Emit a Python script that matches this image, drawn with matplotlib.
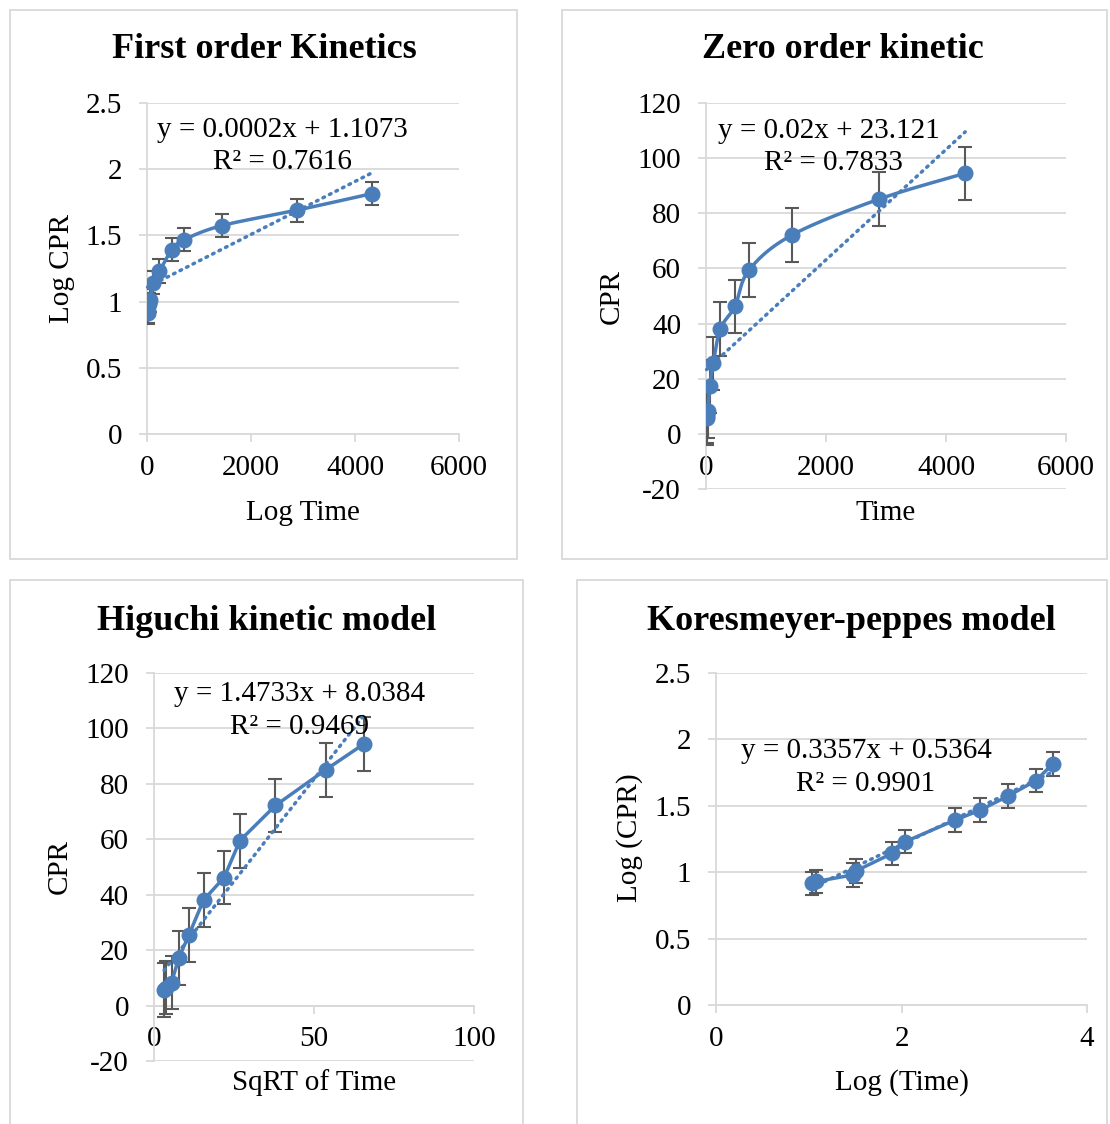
import matplotlib
matplotlib.use("Agg")
import matplotlib.pyplot as plt
import numpy as np
from matplotlib.patches import Rectangle
from matplotlib.ticker import FuncFormatter

plt.rcParams['font.family'] = ['Liberation Serif', 'DejaVu Serif']

# data
time = [10, 15, 30, 60, 120, 240, 480, 720, 1440, 2880, 4320]
sqrt_time = [3.16, 3.87, 5.48, 7.75, 10.95, 15.49, 21.91, 26.83, 37.95, 53.67, 65.73]
log_time = [1.03, 1.08, 1.48, 1.51, 1.90, 2.04, 2.58, 2.85, 3.15, 3.45, 3.63]
cpr = [5.7, 6.5, 8.3, 17.2, 25.6, 38.1, 46.2, 59.5, 72.2, 85.1, 94.5]
log_cpr = [0.916, 0.93, 0.98, 1.01, 1.142, 1.23, 1.393, 1.468, 1.574, 1.69, 1.815]
err_cpr = 9.7
err_log = 0.088

# trendlines (slope, intercept) as printed on the charts
fit_first = (0.0002, 1.1073)
fit_zero = (0.02, 23.121)
fit_higuchi = (1.4733, 8.0384)
fit_peppes = (0.3357, 0.5364)

BLUE = '#4a7ebb'
GRID = '#d9d9d9'
ERR = '#595959'
W, H = 1110, 1124
FS = 21
FS_TITLE = 26

fig = plt.figure(figsize=(W / 100, H / 100), dpi=100)


def fx(x):
    return x / W


def fy(y):
    return 1 - y / H


def smooth(x, y, n=24):
    # excel-like smoothed line (bezier through the points)
    p = np.column_stack([x, y]).astype(float)
    pts = [p[0]]
    for i in range(len(p) - 1):
        p0 = p[i - 1] if i > 0 else p[i]
        p1, p2 = p[i], p[i + 1]
        p3 = p[i + 2] if i + 2 < len(p) else p[i + 1]
        c1 = p1 + (p2 - p0) / 6
        c2 = p2 - (p3 - p1) / 6
        t = np.linspace(0, 1, n)[1:, None]
        seg = ((1 - t) ** 3) * p1 + 3 * ((1 - t) ** 2) * t * c1 + 3 * (1 - t) * t ** 2 * c2 + t ** 3 * p2
        pts.extend(seg)
    pts = np.array(pts)
    return pts[:, 0], pts[:, 1]


def panel(box, rect, x, y, err, fit, xlim, xticks, ylim, yticks,
          title, title_xy, xlabel, xlabel_xy, ylabel, ylabel_xy, eq_xy, r2, r2_xy, smoothed):
    bx0, by0, bx1, by1 = box
    fig.patches.append(Rectangle((fx(bx0), fy(by1)), (bx1 - bx0) / W, (by1 - by0) / H,
                                 transform=fig.transFigure, fill=False, edgecolor=GRID, lw=1.3))
    x0, y0, x1, y1 = rect
    ax = fig.add_axes([fx(x0), fy(y1), (x1 - x0) / W, (y1 - y0) / H])
    ax.set_xlim(*xlim)
    ax.set_ylim(*ylim)
    ax.set_xticks(xticks)
    ax.set_yticks(yticks)
    fmt = FuncFormatter(lambda v, p: '%g' % v)
    ax.xaxis.set_major_formatter(fmt)
    ax.yaxis.set_major_formatter(fmt)
    ax.grid(axis='y', color=GRID, lw=1.3)
    ax.set_axisbelow(True)
    for s in ['top', 'right']:
        ax.spines[s].set_visible(False)
    ax.spines['bottom'].set_position(('data', 0))
    ax.spines['left'].set_color(GRID)
    ax.spines['bottom'].set_color(GRID)
    ax.spines['left'].set_linewidth(1.3)
    ax.spines['bottom'].set_linewidth(1.3)
    ax.tick_params(axis='both', colors=GRID, length=6, width=1.3, labelsize=FS,
                   labelcolor='black')
    ax.tick_params(axis='y', pad=12)
    ax.tick_params(axis='x', pad=9)

    ax.errorbar(x, y, yerr=err, fmt='none', ecolor=ERR, elinewidth=1.5, capsize=5,
                capthick=1.5, zorder=3)
    if smoothed:
        sx, sy = smooth(x, y)
    else:
        sx, sy = x, y
    ax.plot(sx, sy, color=BLUE, lw=2.5, zorder=4)
    ax.plot(x, y, 'o', color=BLUE, ms=10.5, zorder=5)
    xs = np.array([min(x), max(x)])
    ax.plot(xs, fit[0] * xs + fit[1], color=BLUE, lw=2.5, ls=(0, (0.5, 1.6)),
            dash_capstyle='round', zorder=4, clip_on=False)

    fig.text(fx(title_xy[0]), fy(title_xy[1]), title, ha='center', va='center',
             fontsize=FS_TITLE, fontweight='bold')
    fig.text(fx(xlabel_xy[0]), fy(xlabel_xy[1]), xlabel, ha='center', va='center', fontsize=FS)
    fig.text(fx(ylabel_xy[0]), fy(ylabel_xy[1]), ylabel, ha='center', va='center',
             fontsize=FS, rotation=90)
    sign = '+' if fit[1] >= 0 else '-'
    eq = 'y = %gx %s %g' % (fit[0], sign, abs(fit[1]))
    fig.text(fx(eq_xy[0]), fy(eq_xy[1]), eq, ha=eq_xy[2], va='center', fontsize=FS)
    fig.text(fx(r2_xy[0]), fy(r2_xy[1]), 'R² = %s' % r2, ha='center', va='center', fontsize=FS)
    return ax


panel((10, 10, 517, 559), (147, 103, 459, 434), time, log_cpr, err_log, fit_first,
      (0, 6000), [0, 2000, 4000, 6000], (0, 2.5), [0, 0.5, 1, 1.5, 2, 2.5],
      'First order Kinetics', (264, 50), 'Log Time', (303, 513), 'Log CPR', (62, 268),
      (282, 130, 'center'), '0.7616', (282, 162), True)

panel((562, 10, 1107, 559), (706, 103, 1066, 489), time, cpr, err_cpr, fit_zero,
      (0, 6000), [0, 2000, 4000, 6000], (-20, 120), list(range(-20, 121, 20)),
      'Zero order kinetic', (843, 50), 'Time', (886, 513), 'CPR', (612, 296),
      (718, 131, 'left'), '0.7833', (833, 163), True)

panel((10, 580, 523, 1140), (154, 673, 474, 1061), sqrt_time, cpr, err_cpr, fit_higuchi,
      (0, 100), [0, 50, 100], (-20, 120), list(range(-20, 121, 20)),
      'Higuchi kinetic model', (267, 621), 'SqRT of Time', (314, 1083), 'CPR', (60, 866),
      (300, 694, 'center'), '0.9469', (300, 727), False)

panel((577, 580, 1107, 1140), (716, 673, 1087, 1005), log_time, log_cpr, err_log, fit_peppes,
      (0, 4), [0, 2, 4], (0, 2.5), [0, 0.5, 1, 1.5, 2, 2.5],
      'Koresmeyer-peppes model', (851, 621), 'Log (Time)', (902, 1083), 'Log (CPR)', (630, 838),
      (866, 751, 'center'), '0.9901', (866, 784), False)

fig.savefig('out.png', dpi=100)
